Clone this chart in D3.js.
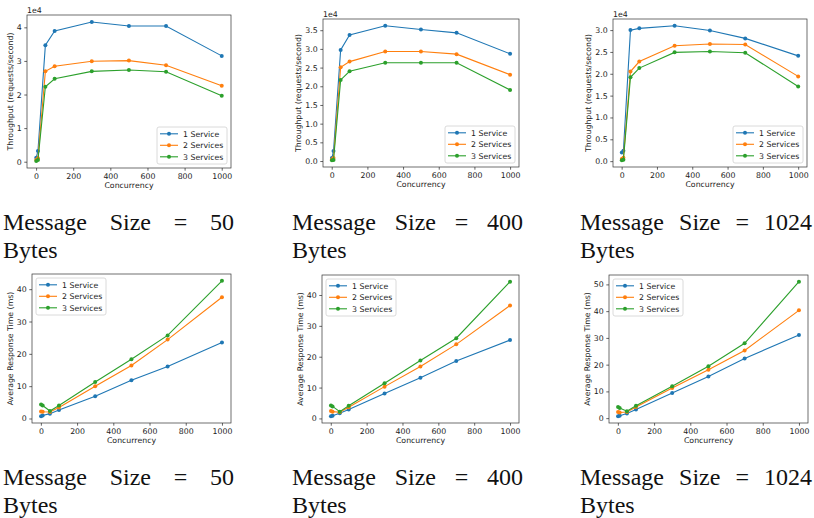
<!DOCTYPE html>
<html>
<head>
<meta charset="utf-8">
<script src="https://cdn.jsdelivr.net/npm/d3@7"></script>
<style>
  body { margin: 0; background: #fff; }
  svg { display: block; }
</style>
</head>
<body>
<svg id="chart" width="814" height="518"></svg>
<script>
// concurrency levels tested
const concurrency = [1, 10, 50, 100, 300, 500, 700, 1000];
const services = ["1 Service", "2 Services", "3 Services"];
const colors = ["#1f77b4", "#ff7f0e", "#2ca02c"];

// throughput (requests/second), one row per service count
const tp50 = [
  [1200, 3200, 34700, 38900, 41600, 40400, 40400, 31500],
  [500, 1000, 26900, 28400, 29900, 30100, 28700, 22600],
  [200, 500, 22300, 24700, 26900, 27300, 26800, 19600]
];
const tp400 = [
  [800, 2700, 29700, 33700, 36200, 35200, 34300, 28700],
  [400, 800, 25100, 26600, 29300, 29300, 28600, 23100],
  [200, 300, 21700, 24000, 26300, 26300, 26300, 19000]
];
const tp1024 = [
  [2000, 2400, 30000, 30400, 31000, 29900, 28100, 24100],
  [500, 800, 20500, 22800, 26400, 26800, 26700, 19400],
  [200, 300, 19200, 21300, 24900, 25100, 24800, 17100]
];

// average response time (ms)
const rt50 = [
  [0.7, 0.9, 1.5, 2.6, 6.9, 11.8, 16.1, 23.5],
  [2.2, 2.1, 2.0, 3.4, 10.0, 16.4, 24.4, 37.5],
  [4.3, 4.0, 2.3, 4.0, 11.3, 18.3, 25.7, 42.6]
];
const rt400 = [
  [0.7, 0.9, 1.7, 2.9, 8.1, 13.2, 18.6, 25.4],
  [2.4, 2.2, 2.0, 3.6, 10.3, 16.8, 24.0, 36.6],
  [4.2, 3.9, 2.2, 4.1, 11.4, 18.8, 26.0, 44.3]
];
const rt1024 = [
  [0.7, 0.9, 1.7, 3.2, 9.4, 15.6, 22.3, 31.1],
  [2.3, 2.1, 2.3, 4.2, 11.3, 18.1, 25.3, 40.3],
  [4.2, 3.8, 2.6, 4.6, 11.9, 19.4, 28.0, 51.0]
];

const xTicks = [0, 200, 400, 600, 800, 1000];
const captions = ["Message Size = 50 Bytes", "Message Size = 400 Bytes", "Message Size = 1024 Bytes"];

const svg = d3.select("#chart");
const fs = 7.8;       // axis font size
const tickLen = 2.7;
const tickPad = 2.7;
const sans = "DejaVu Sans";
const serifFont = "Liberation Serif";

const panels = [
  { data: tp50, box: [27, 15, 231, 168], yTicks: [0, 1, 2, 3, 4], fmt: d3.format("d"), scale: 1e4, ylab: "Throughput (requests/second)", legend: "br" },
  { data: tp400, box: [323, 19, 519, 167], yTicks: [0, 0.5, 1, 1.5, 2, 2.5, 3, 3.5], fmt: d3.format(".1f"), scale: 1e4, ylab: "Throughput (requests/second)", legend: "br" },
  { data: tp1024, box: [613, 19, 807, 167], yTicks: [0, 0.5, 1, 1.5, 2, 2.5, 3], fmt: d3.format(".1f"), scale: 1e4, ylab: "Throughput (requests/second)", legend: "br" },
  { data: rt50, box: [32, 274, 231, 423], yTicks: [0, 10, 20, 30, 40], fmt: d3.format("d"), scale: 1, ylab: "Average Response Time (ms)", legend: "tl" },
  { data: rt400, box: [322, 275, 519, 423], yTicks: [0, 10, 20, 30, 40], fmt: d3.format("d"), scale: 1, ylab: "Average Response Time (ms)", legend: "tl" },
  { data: rt1024, box: [609, 275, 808, 423], yTicks: [0, 10, 20, 30, 40, 50], fmt: d3.format("d"), scale: 1, ylab: "Average Response Time (ms)", legend: "tl" }
];

function padded(ext) {
  const m = (ext[1] - ext[0]) * 0.05;
  return [ext[0] - m, ext[1] + m];
}

panels.forEach(function (p) {
  const [x0, y0, x1, y1] = p.box;
  const w = x1 - x0, h = y1 - y0;
  const g = svg.append("g").attr("transform", `translate(${x0},${y0})`);

  const xScale = d3.scaleLinear().domain(padded(d3.extent(concurrency))).range([0, w]);
  const allY = p.data.flat().map(v => v / p.scale);
  const yScale = d3.scaleLinear().domain(padded(d3.extent(allY))).range([h, 0]);

  // axes
  const gx = g.append("g")
    .attr("transform", `translate(0,${h})`)
    .call(d3.axisBottom(xScale).tickValues(xTicks).tickFormat(d3.format("d")).tickSize(tickLen).tickPadding(tickPad));
  const gy = g.append("g")
    .call(d3.axisLeft(yScale).tickValues(p.yTicks).tickFormat(p.fmt).tickSize(tickLen).tickPadding(tickPad));
  [gx, gy].forEach(a => {
    a.attr("font-family", sans).attr("font-size", fs);
    a.select(".domain").remove();
    a.selectAll(".tick line").attr("stroke", "#222").attr("stroke-width", 0.7);
    a.selectAll(".tick text").attr("fill", "#222");
  });
  gx.selectAll(".tick text").attr("dy", null).attr("y", tickLen + tickPad + fs * 0.76);

  // lines and markers
  const line = d3.line()
    .x((d, i) => xScale(concurrency[i]))
    .y(d => yScale(d / p.scale));
  p.data.forEach(function (series, s) {
    g.append("path")
      .datum(series)
      .attr("fill", "none")
      .attr("stroke", colors[s])
      .attr("stroke-width", 1.1)
      .attr("d", line);
    g.selectAll(null)
      .data(series)
      .join("circle")
      .attr("cx", (d, i) => xScale(concurrency[i]))
      .attr("cy", d => yScale(d / p.scale))
      .attr("r", 2)
      .attr("fill", colors[s]);
  });

  // spines
  g.append("rect")
    .attr("width", w).attr("height", h)
    .attr("fill", "none")
    .attr("stroke", "#333")
    .attr("stroke-width", 0.7);

  // labels
  g.append("text")
    .attr("x", w / 2)
    .attr("y", h + 19.5)
    .attr("text-anchor", "middle")
    .attr("font-family", sans)
    .attr("font-size", fs)
    .attr("fill", "#222")
    .text("Concurrency");

  let maxW = 0;
  gy.selectAll(".tick text").each(function () { maxW = Math.max(maxW, this.getBBox().width); });
  const lx = -(tickLen + tickPad + maxW + 2.2 + 1.8);
  g.append("text")
    .attr("transform", `translate(${lx},${h / 2}) rotate(-90)`)
    .attr("text-anchor", "middle")
    .attr("font-family", sans)
    .attr("font-size", fs)
    .attr("fill", "#222")
    .text(p.ylab);

  if (p.scale !== 1) {
    g.append("text")
      .attr("x", 0)
      .attr("y", -2.5)
      .attr("font-family", sans)
      .attr("font-size", fs)
      .attr("fill", "#222")
      .text("1e4");
  }

  // legend
  const lw = 70, lh = 37;
  const lxPos = p.legend === "br" ? w - 4 - lw : 4;
  const lyPos = p.legend === "br" ? h - 4 - lh : 4;
  const lg = g.append("g").attr("transform", `translate(${lxPos},${lyPos})`);
  lg.append("rect")
    .attr("width", lw).attr("height", lh)
    .attr("rx", 2)
    .attr("fill", "#fff").attr("fill-opacity", 0.8)
    .attr("stroke", "#d0d0d0").attr("stroke-width", 0.8);
  services.forEach(function (name, s) {
    const yy = 6.8 + s * 11.5;
    lg.append("line")
      .attr("x1", 3).attr("x2", 21)
      .attr("y1", yy).attr("y2", yy)
      .attr("stroke", colors[s]).attr("stroke-width", 1.1);
    lg.append("circle").attr("cx", 12).attr("cy", yy).attr("r", 2).attr("fill", colors[s]);
    lg.append("text")
      .attr("x", 26).attr("y", yy + fs * 0.36)
      .attr("font-family", sans)
      .attr("font-size", fs)
      .attr("fill", "#222")
      .text(name);
  });
});

// captions under each panel, first line justified like the LaTeX source
const capLeft = [3, 292, 580];
const capRight = [234, 523, 812];
const capBase = [230, 485];
capBase.forEach(function (base) {
  captions.forEach(function (c, i) {
    const words = c.split(" ");
    const first = words.slice(0, 4);
    const rest = words.slice(4).join(" ");
    const nodes = first.map(wd => svg.append("text")
      .attr("font-family", serifFont)
      .attr("font-size", 24)
      .attr("y", base)
      .attr("fill", "#111")
      .text(wd));
    const widths = nodes.map(n => n.node().getComputedTextLength());
    const total = d3.sum(widths);
    const gap = (capRight[i] - capLeft[i] - total) / (nodes.length - 1);
    let x = capLeft[i];
    nodes.forEach((n, k) => { n.attr("x", x); x += widths[k] + gap; });
    svg.append("text")
      .attr("font-family", serifFont)
      .attr("font-size", 24)
      .attr("x", capLeft[i]).attr("y", base + 28)
      .attr("fill", "#111")
      .text(rest);
  });
});
</script>
</body>
</html>
